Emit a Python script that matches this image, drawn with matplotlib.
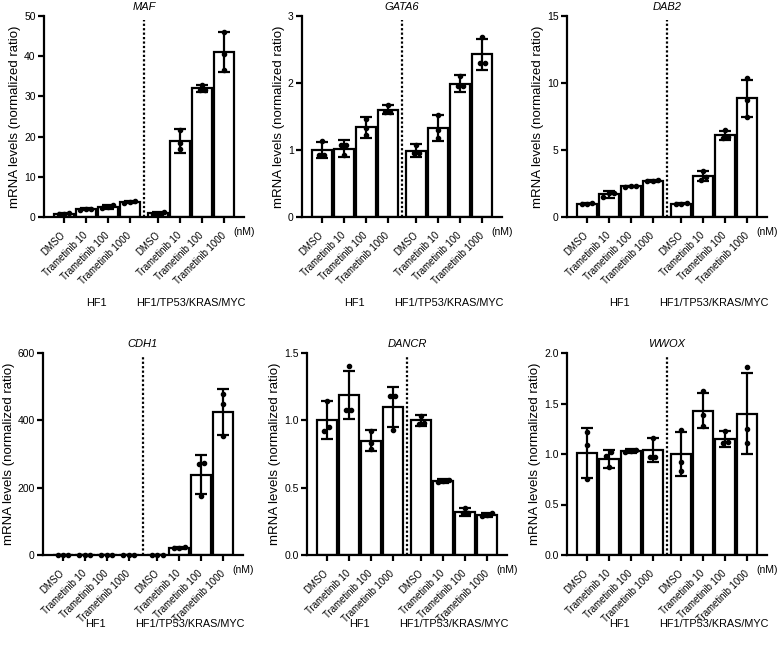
import numpy as np
import matplotlib
matplotlib.use('Agg')
import matplotlib.pyplot as plt
from matplotlib.ticker import FormatStrFormatter

plt.rcParams['font.family'] = ['Liberation Sans', 'DejaVu Sans']

# conditions
conditions = ['DMSO', 'Trametinib 10', 'Trametinib 100', 'Trametinib 1000']
groups = ['HF1', 'HF1/TP53/KRAS/MYC']

# MAF
maf_mean = [0.8, 1.9, 2.6, 3.7, 0.9, 19.0, 32.0, 41.0]
maf_sd = [0.15, 0.25, 0.5, 0.25, 0.3, 3.0, 0.8, 5.0]
maf_pts = [[0.7, 0.75, 0.95], [1.7, 1.9, 2.1], [2.2, 2.5, 3.1], [3.5, 3.7, 3.95],
           [0.7, 0.8, 1.2], [16.8, 18.5, 21.7], [31.5, 31.7, 32.9], [36.5, 40.5, 46.1]]

# GATA6
gata6_mean = [1.0, 1.02, 1.34, 1.60, 0.99, 1.33, 1.99, 2.43]
gata6_sd = [0.12, 0.13, 0.16, 0.07, 0.10, 0.19, 0.13, 0.23]
gata6_pts = [[0.93, 0.93, 1.13], [0.92, 1.07, 1.07], [1.22, 1.33, 1.47], [1.57, 1.57, 1.67],
             [0.95, 0.95, 1.08], [1.18, 1.30, 1.52], [1.95, 1.95, 2.11], [2.30, 2.30, 2.68]]

# DAB2
dab2_mean = [1.0, 1.7, 2.3, 2.7, 1.0, 3.05, 6.1, 8.85]
dab2_sd = [0.05, 0.25, 0.05, 0.07, 0.05, 0.35, 0.35, 1.35]
dab2_pts = [[0.95, 1.0, 1.05], [1.5, 1.8, 1.8], [2.25, 2.3, 2.35], [2.65, 2.7, 2.75],
            [0.95, 1.0, 1.05], [2.75, 3.0, 3.4], [5.9, 5.95, 6.5], [7.5, 8.7, 10.35]]

# CDH1
cdh1_mean = [1, 1, 1, 1, 1, 22, 238, 425]
cdh1_sd = [0.2, 0.2, 0.3, 0.3, 0.3, 3, 58, 68]
cdh1_pts = [[0.8, 1.0, 1.2], [0.8, 1.0, 1.2], [0.7, 1.0, 1.3], [0.7, 1.0, 1.3],
            [0.7, 1.0, 1.3], [20, 22, 25], [175, 270, 272], [352, 450, 478]]

# DANCR
dancr_mean = [1.0, 1.19, 0.85, 1.10, 1.0, 0.55, 0.32, 0.30]
dancr_sd = [0.14, 0.18, 0.08, 0.15, 0.04, 0.015, 0.03, 0.015]
dancr_pts = [[0.92, 0.95, 1.14], [1.08, 1.08, 1.40], [0.79, 0.83, 0.92], [0.93, 1.18, 1.18],
             [0.97, 0.98, 1.03], [0.54, 0.55, 0.56], [0.31, 0.31, 0.35], [0.29, 0.30, 0.31]]

# WWOX
wwox_mean = [1.01, 0.95, 1.03, 1.04, 1.0, 1.43, 1.15, 1.40]
wwox_sd = [0.25, 0.09, 0.02, 0.12, 0.22, 0.17, 0.08, 0.40]
wwox_pts = [[0.75, 1.09, 1.22], [0.87, 0.98, 1.02], [1.02, 1.03, 1.04], [0.97, 0.97, 1.16],
            [0.83, 0.92, 1.24], [1.28, 1.39, 1.62], [1.11, 1.12, 1.23], [1.11, 1.25, 1.86]]

# x positions: two groups of four with a gap
xpos = np.array([0, 1, 2, 3, 4.3, 5.3, 6.3, 7.3])
sep_x = 3.65

fig = plt.figure(figsize=(7.8, 6.5), dpi=100)


def px_axes(left, top, right, bottom):
    return fig.add_axes([left / 780, 1 - bottom / 650, (right - left) / 780, (bottom - top) / 650])


def spread(vals, ymax):
    # points that sit close together get pushed sideways
    vals = list(vals)
    offs = [0.0] * len(vals)
    used = [False] * len(vals)
    for i in range(len(vals)):
        if used[i]:
            continue
        grp = [j for j in range(len(vals)) if not used[j] and abs(vals[j] - vals[i]) < 0.025 * ymax]
        for k, j in enumerate(grp):
            used[j] = True
            offs[j] = (k - (len(grp) - 1) / 2) * 0.24
    return offs


def panel(ax, gene, mean, sd, pts, ymax, ystep, fmt, grp_y):
    ax.bar(xpos, mean, width=0.9, color='white', edgecolor='black', linewidth=1.6, zorder=2)
    ax.errorbar(xpos, mean, yerr=sd, fmt='none', ecolor='black', elinewidth=1.6,
                capsize=4.5, capthick=1.6, zorder=3)
    for x, p in zip(xpos, pts):
        off = spread(p, ymax)
        ax.plot(x + np.array(off), p, 'o', color='black', ms=3, zorder=4, clip_on=False)
    ax.axvline(sep_x, ymin=0, ymax=0.98, color='black', lw=1.6, ls=(0, (1, 1)), zorder=1)
    ax.text(sep_x, ymax * 1.045, gene, ha='center', va='center', fontsize=8, style='italic')
    ax.set_xlim(-0.9, 8.2)
    ax.set_ylim(0, ymax)
    ax.set_yticks(np.arange(0, ymax + ystep / 2, ystep))
    if fmt:
        ax.yaxis.set_major_formatter(FormatStrFormatter(fmt))
    ax.set_xticks(xpos)
    ax.set_xticklabels(conditions * 2, rotation=45, ha='right', va='center',
                       rotation_mode='anchor', fontsize=6.9)
    ax.tick_params(axis='both', direction='out', length=4, width=1.6, labelsize=7.5, pad=2)
    ax.tick_params(axis='x', pad=8, labelsize=6.9)
    ax.spines['top'].set_visible(False)
    ax.spines['right'].set_visible(False)
    ax.spines['left'].set_linewidth(1.6)
    ax.spines['bottom'].set_linewidth(1.6)
    ax.set_ylabel('mRNA levels (normalized ratio)', fontsize=9.5, labelpad=2)
    ax.text(1.0, -0.075, '(nM)', transform=ax.transAxes, ha='center', va='center', fontsize=7.5)
    ax.text(xpos[:4].mean(), grp_y, groups[0], transform=ax.get_xaxis_transform(),
            ha='center', va='center', fontsize=7.8)
    ax.text(xpos[4:].mean(), grp_y, groups[1], transform=ax.get_xaxis_transform(),
            ha='center', va='center', fontsize=7.8)


ax1 = px_axes(44, 16, 244, 217)
panel(ax1, 'MAF', maf_mean, maf_sd, maf_pts, 50, 10, None, -0.43)
ax2 = px_axes(302, 16, 502, 217)
panel(ax2, 'GATA6', gata6_mean, gata6_sd, gata6_pts, 3, 1, None, -0.43)
ax3 = px_axes(567, 16, 767, 217)
panel(ax3, 'DAB2', dab2_mean, dab2_sd, dab2_pts, 15, 5, None, -0.43)
ax4 = px_axes(43, 353, 243, 555)
panel(ax4, 'CDH1', cdh1_mean, cdh1_sd, cdh1_pts, 600, 200, None, -0.34)
ax5 = px_axes(307, 353, 507, 555)
panel(ax5, 'DANCR', dancr_mean, dancr_sd, dancr_pts, 1.5, 0.5, '%.1f', -0.34)
ax6 = px_axes(567, 353, 767, 555)
panel(ax6, 'WWOX', wwox_mean, wwox_sd, wwox_pts, 2.0, 0.5, '%.1f', -0.34)

fig.savefig('out.png', dpi=100)
